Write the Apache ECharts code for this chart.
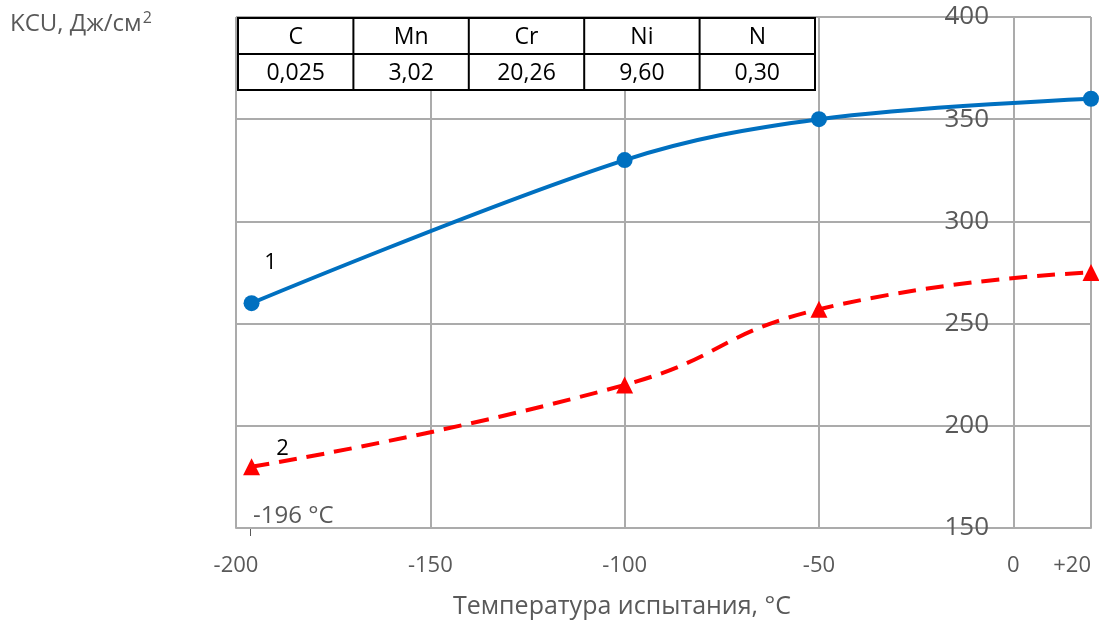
<!DOCTYPE html>
<html>
<head>
<meta charset="utf-8">
<script src="https://cdn.jsdelivr.net/npm/echarts@6/dist/echarts.min.js"></script>
<style>
  html, body { margin: 0; padding: 0; background: #fff; }
  #chart { width: 1099px; height: 620px; }
</style>
</head>
<body>
<div id="chart"></div>
<script>
// Impact toughness KCU vs test temperature
const temps1 = [-196, -100, -50, 20];
const kcu1 = [260, 330, 350, 360];
const temps2 = [-196, -100, -50, 20];
const kcu2 = [180, 220, 257, 275];

// Chemical composition, wt.%
const elements = ['C', 'Mn', 'Cr', 'Ni', 'N'];
const contents = ['0,025', '3,02', '20,26', '9,60', '0,30'];

const xTicks = { min: -200, max: 20, step: 50 };
const yTicks = { min: 150, max: 400, step: 50 };

const FONT = '"Open Sans", "Noto Sans", sans-serif';
const GRID_COLOR = '#ababab';
const TEXT_COLOR = '#595959';

const chart = echarts.init(document.getElementById('chart'), null, { renderer: 'canvas' });

// composition table
const tbl = { x: 238, y: 18, colW: 115.4, rowH: 36 };
const tableEls = [];
tableEls.push({
  type: 'rect', shape: { x: tbl.x, y: tbl.y, width: tbl.colW * elements.length, height: tbl.rowH * 2 },
  style: { fill: '#fff', stroke: '#000', lineWidth: 2 }, z: 10
});
tableEls.push({
  type: 'line', shape: { x1: tbl.x, y1: tbl.y + tbl.rowH, x2: tbl.x + tbl.colW * elements.length, y2: tbl.y + tbl.rowH },
  style: { stroke: '#000', lineWidth: 2 }, z: 11
});
elements.forEach((el, i) => {
  if (i > 0) {
    tableEls.push({
      type: 'line', shape: { x1: tbl.x + tbl.colW * i, y1: tbl.y, x2: tbl.x + tbl.colW * i, y2: tbl.y + tbl.rowH * 2 },
      style: { stroke: '#000', lineWidth: 2 }, z: 11
    });
  }
  const cx = tbl.x + tbl.colW * (i + 0.5);
  tableEls.push({
    type: 'text', x: cx, y: tbl.y + tbl.rowH * 0.5 + 1, z: 12,
    style: { text: el, fill: '#000', font: '23px ' + FONT, align: 'center', verticalAlign: 'middle' }
  });
  tableEls.push({
    type: 'text', x: cx, y: tbl.y + tbl.rowH * 1.5 + 1, z: 12,
    style: { text: contents[i], fill: '#000', font: '23px ' + FONT, align: 'center', verticalAlign: 'middle' }
  });
});

const option = {
  animation: false,
  backgroundColor: '#fff',
  grid: { left: 236, right: 8, top: 17, bottom: 92 },
  xAxis: {
    type: 'value',
    min: xTicks.min, max: xTicks.max, interval: xTicks.step,
    axisLine: { show: true, onZero: false, lineStyle: { color: GRID_COLOR, width: 2 } },
    axisTick: { show: false },
    splitLine: { show: true, lineStyle: { color: GRID_COLOR, width: 2 } },
    axisLabel: {
      margin: 27, color: TEXT_COLOR, fontSize: 22, fontFamily: FONT,
      alignMaxLabel: 'right',
      formatter: v => (v > 0 ? '+' + v : String(v))
    }
  },
  yAxis: {
    type: 'value',
    position: 'left',
    offset: -777, // value axis crosses the temperature axis at 0 °C
    min: yTicks.min, max: yTicks.max, interval: yTicks.step,
    axisLine: { show: false },
    axisTick: { show: false },
    splitLine: { show: true, lineStyle: { color: GRID_COLOR, width: 2 } },
    axisLabel: { margin: 24, color: TEXT_COLOR, fontSize: 26, fontFamily: FONT }
  },
  series: [
    {
      type: 'line',
      data: temps1.map((t, i) => i === 0
        ? { value: [t, kcu1[i]], label: { show: true, formatter: '1', offset: [19, -40] } }
        : [t, kcu1[i]]),
      smooth: 0.35,
      symbol: 'circle', symbolSize: 16,
      lineStyle: { color: '#0070C0', width: 4 },
      itemStyle: { color: '#0070C0' },
      label: { show: false, position: 'inside', color: '#000', fontSize: 22, fontFamily: FONT },
      z: 5
    },
    {
      type: 'line',
      data: temps2.map((t, i) => i === 0
        ? { value: [t, kcu2[i]], label: { show: true, formatter: '2', offset: [31, -18] } }
        : [t, kcu2[i]]),
      smooth: 0.5,
      symbol: 'triangle', symbolSize: 17,
      lineStyle: { color: '#FF0000', width: 4, type: [18, 10] },
      itemStyle: { color: '#FF0000' },
      label: { show: false, position: 'inside', color: '#000', fontSize: 22, fontFamily: FONT },
      z: 4
    }
  ],
  graphic: [
    {
      type: 'text', left: 10, top: 10,
      style: {
        text: 'KCU, Дж/см{sup|2}', fill: TEXT_COLOR, font: '24px ' + FONT,
        rich: { sup: { fontSize: 16, fontFamily: FONT, fill: TEXT_COLOR, padding: [0, 0, 12, 1] } }
      }
    },
    {
      type: 'text', x: 622, y: 607,
      style: { text: 'Температура испытания, °C', fill: TEXT_COLOR, font: '25px ' + FONT, align: 'center', verticalAlign: 'middle' }
    },
    {
      type: 'text', x: 253, y: 516,
      style: { text: '-196 °C', fill: TEXT_COLOR, font: '24px ' + FONT, align: 'left', verticalAlign: 'middle' }
    },
    {
      type: 'line', shape: { x1: 250.5, y1: 529, x2: 250.5, y2: 536 },
      style: { stroke: TEXT_COLOR, lineWidth: 1 }
    },
    { type: 'group', children: tableEls }
  ]
};

chart.setOption(option);
</script>
</body>
</html>
